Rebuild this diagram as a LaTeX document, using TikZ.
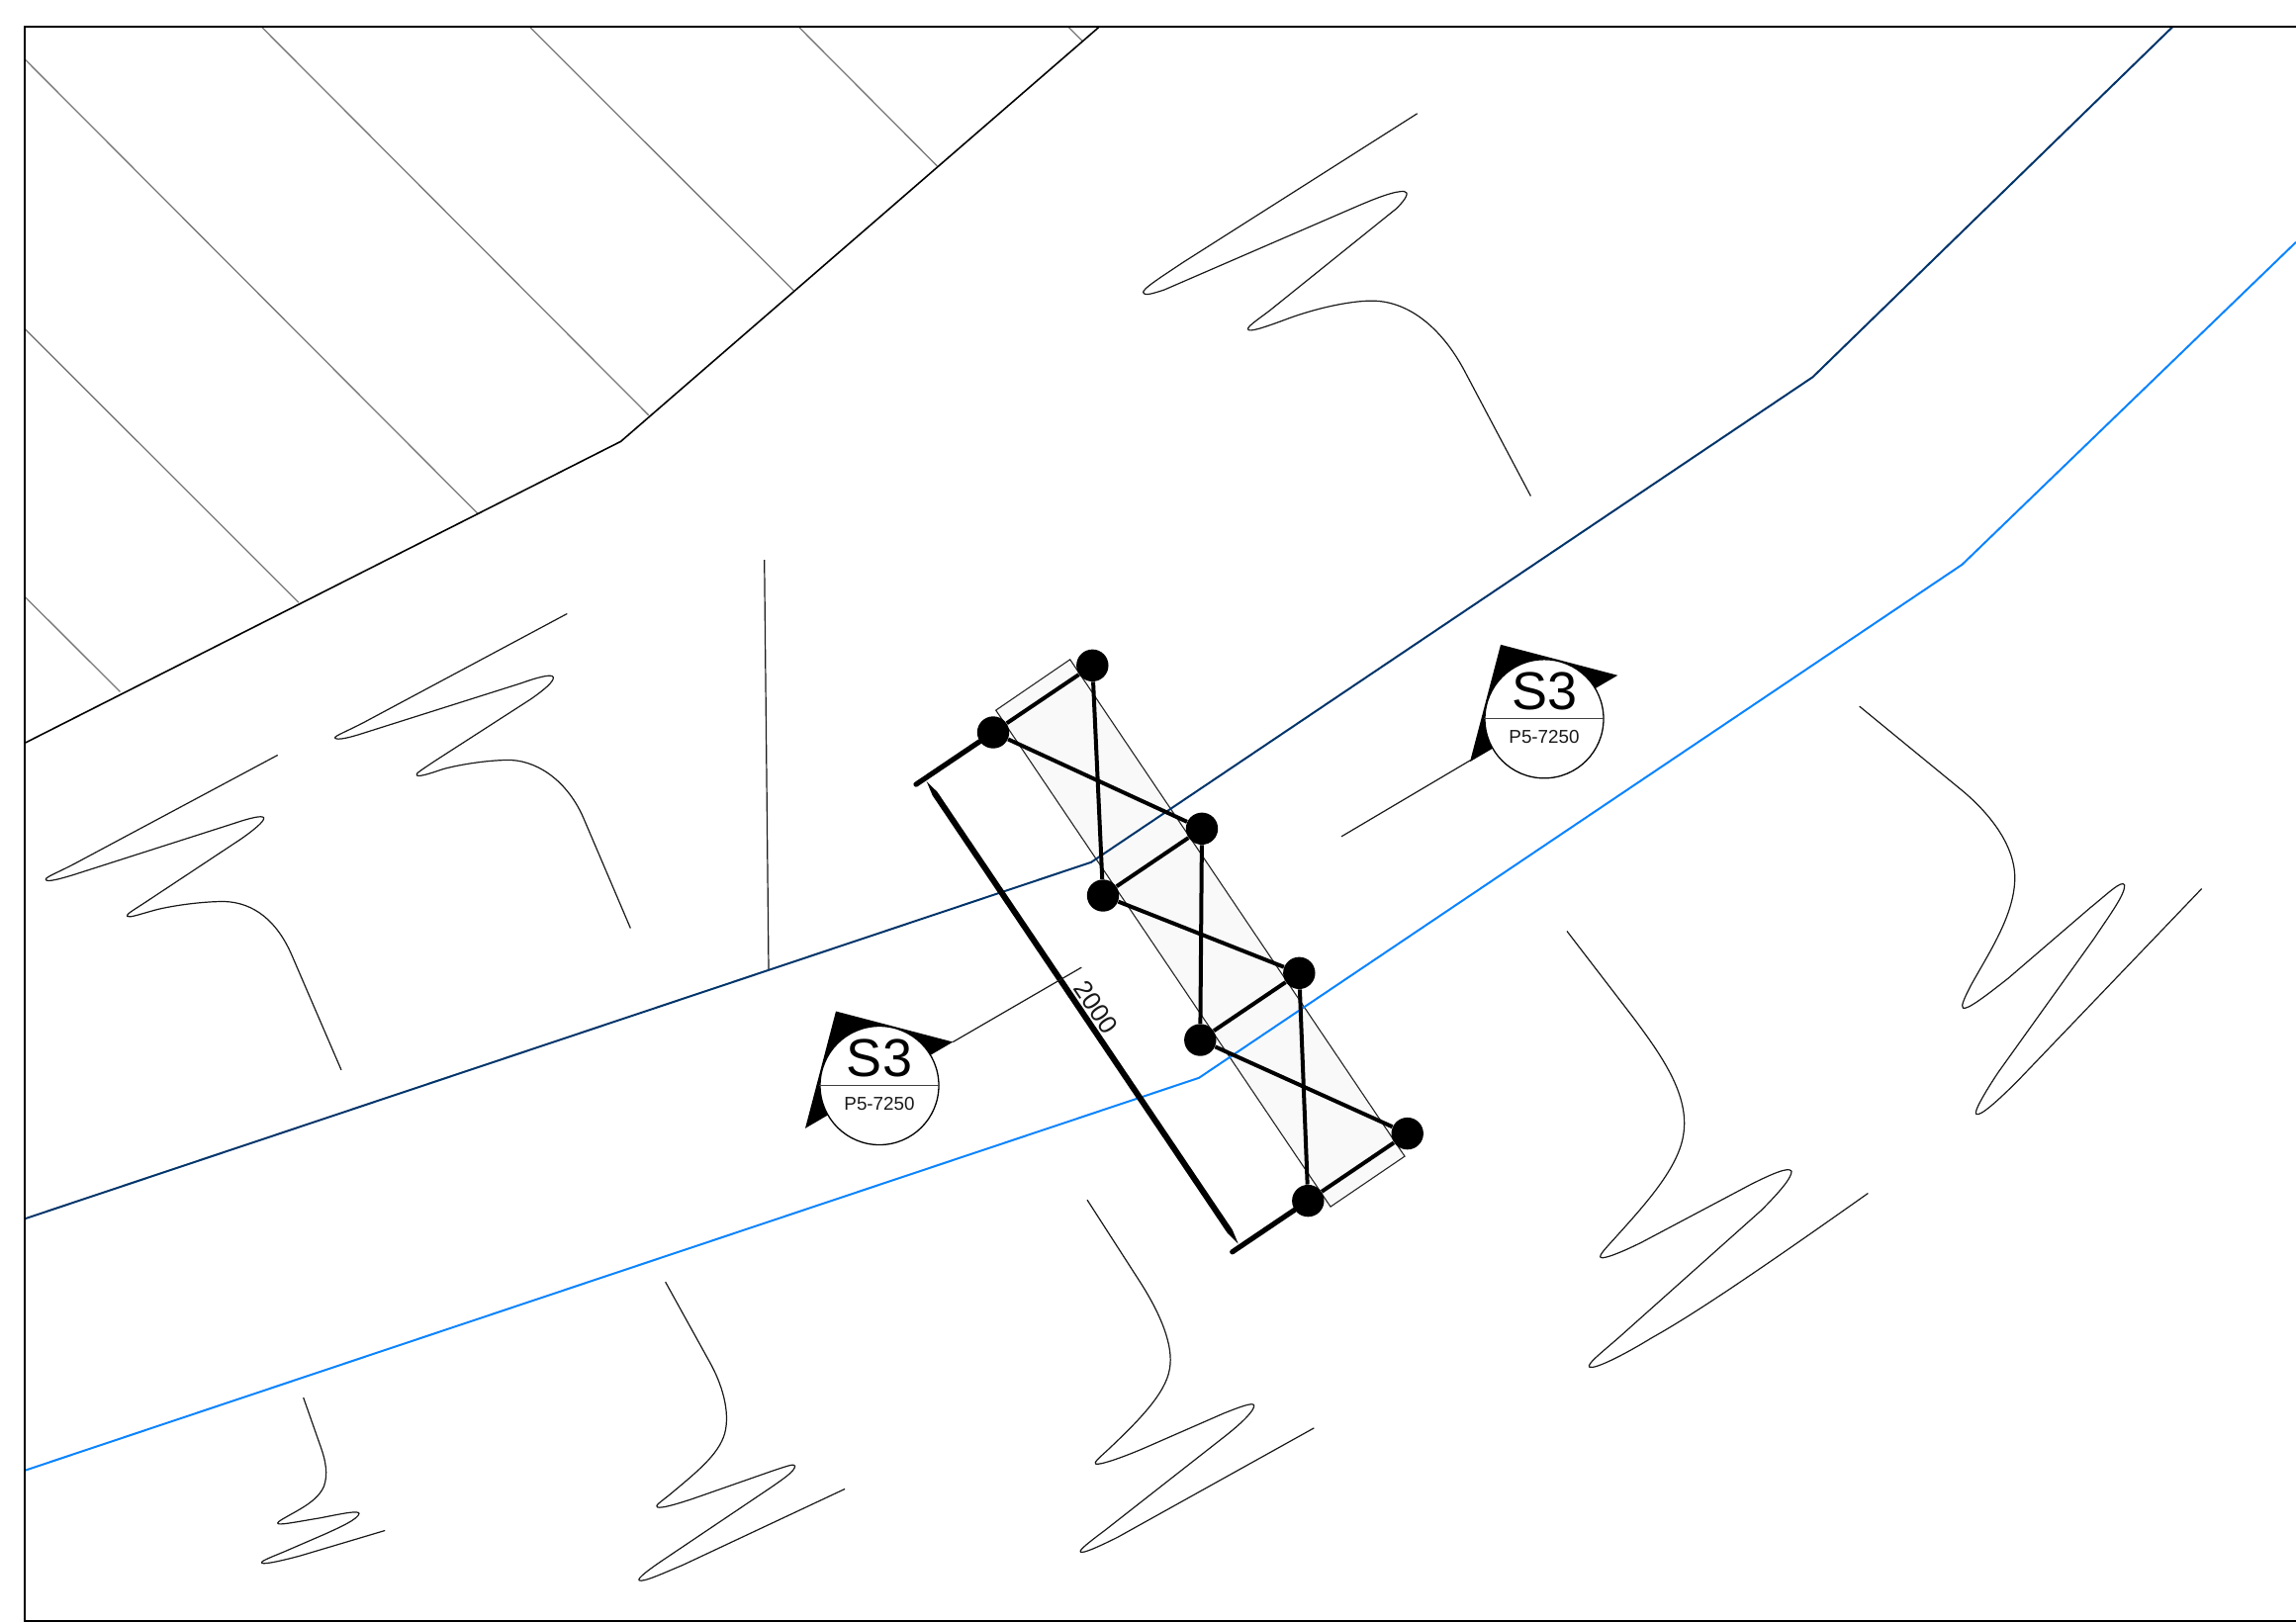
\documentclass[tikz,border=0pt]{standalone}
\usepackage{fontspec}
\setmainfont{Liberation Sans}
\definecolor{hatchgrey}{HTML}{787878}
\definecolor{roaddark}{HTML}{00356B}
\definecolor{roadbright}{HTML}{0A84FF}
\definecolor{padfill}{HTML}{F9F9F9}
\tikzset{
  px/.style={x=0.5pt,y=-0.5pt},
  framed/.style={draw=black,line width=0.75pt,line join=miter},
  hatchline/.style={draw=hatchgrey,line width=0.65pt},
  boundary/.style={draw=black,line width=0.8pt,line join=round},
  darkroad/.style={draw=roaddark,line width=1pt,line join=round},
  brightroad/.style={draw=roadbright,line width=1pt,line join=round},
  breakline/.style={draw=black!90,line width=0.6pt,line join=round},
  leaderline/.style={draw=black!90,line width=0.6pt},
  pad/.style={draw=black!85,fill=padfill,line width=0.55pt},
  post/.style={circle,fill=black,draw=none,inner sep=0pt,minimum size=16.2pt},
  truss/.style={draw=black,line width=2pt},
  tick/.style={draw=black,line width=2.6pt,line cap=round},
  tagcircle/.style={circle,draw=black,fill=white,line width=0.65pt,inner sep=0pt,minimum size=60pt},
  tagrule/.style={draw=black!75,line width=0.65pt},
  tagbig/.style={font=\fontsize{27pt}{30pt}\selectfont,inner sep=0pt},
  tagsmall/.style={font=\fontsize{9.4pt}{11pt}\selectfont,text=black!90,inner sep=0pt},
  dimtext/.style={font=\fontsize{13pt}{15pt}\selectfont,text=black!90,inner sep=0pt,rotate=-56}
}
\newcommand{\brk}[3]{\begin{scope}[shift={(#1,#2)},x=0.16667pt,y=-0.16667pt]\draw[breakline] #3;\end{scope}}
\newcommand{\sectag}[3]{%
  \fill[black] (#1-44,#2-75) -- (#1+74.3,#2-44) -- (#1-75,#2+43.3) -- cycle;
  \node[tagcircle] (#3c) at (#1,#2) {};
  \draw[tagrule] (#3c.west) -- (#3c.east);
  \node[tagbig] (#3t) at (#1,#2-28) {S3};
  \node[tagsmall] (#3s) at (#1,#2+18.5) {P5-7250};
}
\begin{document}
\begin{tikzpicture}[px]
\useasboundingbox (0,0) rectangle (2321,1640);
\fill[white] (0,0) rectangle (2321,1640);

\begin{scope}[yshift=-0.4pt]
% hatch
\draw[hatchline] (25,59) -- (482.5,518);
\draw[hatchline] (265,27) -- (655.7,419);
\draw[hatchline] (536,27) -- (802.3,293);
\draw[hatchline] (808,27) -- (947.3,167);
\draw[hatchline] (1080.5,27) -- (1095,41.4);
\draw[hatchline] (25,331.6) -- (302,608.4);
\draw[hatchline] (25,602.4) -- (121.4,698.6);

% boundary
\draw[boundary] (25,750.5) -- (627.6,445.5) -- (1111.6,26);
\draw[leaderline] (772.7,565.4) -- (777,980);

% pad
\draw[pad] (1081.7,666) -- (1006.7,717.3) -- (1345,1219.3) -- (1420,1168.3) -- cycle;

% roads
\draw[darkroad] (25,1231.5) -- (1103,871) -- (1832.5,380.4) -- (2196.6,26);
\draw[brightroad] (25,1486) -- (1212,1089) -- (1983.5,570) -- (2321,244);

% break lines
\brk{1140}{100}{(878,42) -- (170,492) .. controls (110,532) and (42,575) .. (47,585) .. controls (50,595) and (70,590) .. (110,577) -- (680,330) .. controls (760,295) and (810,277) .. (838,278) .. controls (855,280) and (845,300) .. (815,330) -- (430,640) .. controls (390,670) and (360,690) .. (365,697) .. controls (370,705) and (410,692) .. (470,670) .. controls (560,635) and (670,610) .. (740,610) .. controls (850,610) and (950,690) .. (1020,820) -- (1222,1202)}
\brk{30}{750}{(752,38) -- (150,360) .. controls (90,393) and (45,408) .. (49,416) .. controls (53,424) and (90,414) .. (130,402) -- (620,245) .. controls (670,228) and (705,220) .. (710,228) .. controls (713,238) and (680,265) .. (640,293) -- (350,485) .. controls (315,508) and (290,522) .. (296,527) .. controls (302,532) and (330,522) .. (380,508) .. controls (430,495) and (520,482) .. (590,482) .. controls (680,485) and (750,541) .. (795,645) -- (945,993)}
\brk{330}{610}{(730,29) -- (130,350) .. controls (70,383) and (22,400) .. (26,406) .. controls (32,414) and (70,405) .. (110,392) -- (590,240) .. controls (640,222) and (685,210) .. (688,222) .. controls (690,235) and (660,260) .. (620,288) -- (330,475) .. controls (290,502) and (268,515) .. (274,519) .. controls (280,525) and (310,515) .. (355,500) .. controls (410,485) and (500,472) .. (560,473) .. controls (650,478) and (735,545) .. (780,650) -- (922,983)}
\begin{scope}[shift={(250,1400)},x=0.20408pt,y=-0.16667pt]
\draw[breakline] (139,37) -- (180,180) .. controls (195,230) and (200,270) .. (190,305) .. controls (175,350) and (130,375) .. (95,400) .. controls (80,410) and (70,418) .. (78,420) .. controls (90,422) and (130,412) .. (180,402) .. controls (230,390) and (275,378) .. (277,388) .. controls (275,405) and (230,430) .. (190,452) -- (90,505) .. controls (50,525) and (30,535) .. (36,539) .. controls (45,543) and (90,530) .. (130,517) -- (341,440);
\end{scope}
\brk{640}{1280}{(98,46) -- (230,285) .. controls (270,355) and (295,440) .. (278,505) .. controls (260,570) and (190,625) .. (110,692) .. controls (85,712) and (65,725) .. (73,729) .. controls (85,735) and (150,715) .. (220,690) -- (420,620) .. controls (460,607) and (490,595) .. (491,604) .. controls (490,620) and (460,640) .. (420,668) -- (90,890) .. controls (50,917) and (12,945) .. (18,951) .. controls (30,958) and (90,930) .. (150,905) -- (642,674)}
\brk{1080}{1200}{(57,37) -- (220,290) .. controls (280,385) and (320,480) .. (307,550) .. controls (295,625) and (210,710) .. (120,795) .. controls (95,818) and (75,835) .. (83,838) .. controls (95,842) and (160,820) .. (230,790) -- (470,685) .. controls (520,665) and (560,650) .. (563,660) .. controls (565,675) and (530,710) .. (480,750) -- (110,1040) .. controls (70,1070) and (30,1100) .. (37,1105) .. controls (45,1110) and (90,1090) .. (150,1060) -- (745,729)}
\brk{1570}{930}{(42,32) -- (240,290) .. controls (330,410) and (415,530) .. (395,650) .. controls (380,750) and (280,860) .. (190,960) .. controls (165,988) and (135,1018) .. (145,1022) .. controls (155,1027) and (210,1005) .. (270,975) -- (600,800) .. controls (660,770) and (715,745) .. (723,760) .. controls (725,780) and (680,830) .. (630,880) -- (210,1255) .. controls (160,1300) and (100,1345) .. (110,1354) .. controls (125,1362) and (210,1320) .. (300,1265) .. controls (420,1198) and (600,1078) .. (955,827)}
\brk{1870}{700}{(29,40) -- (340,295) .. controls (430,370) and (505,470) .. (500,570) .. controls (495,680) and (420,790) .. (365,890) .. controls (350,920) and (335,950) .. (343,955) .. controls (355,962) and (410,920) .. (480,865) -- (730,650) .. controls (780,610) and (825,565) .. (833,582) .. controls (835,610) and (790,670) .. (740,745) -- (450,1150) .. controls (410,1210) and (375,1270) .. (383,1277) .. controls (395,1285) and (450,1235) .. (510,1175) -- (1067,593)}

% dimension
\coordinate (tickA) at (926,792.3);
\coordinate (tickB) at (1245.7,1265);
\fill[black] (936.7,789.3) -- (947.6,800) -- (1245.8,1242.6) -- (1251.7,1256.7) -- (1240.8,1246) -- (942.6,803.4) -- cycle;

% posts
\node[post] (A) at (1104.3,672) {};
\node[post] (B) at (1004,739.7) {};
\node[post] (C) at (1215,837) {};
\node[post] (D) at (1115,904.7) {};
\node[post] (E) at (1313.3,983) {};
\node[post] (F) at (1213.3,1050.7) {};
\node[post] (G) at (1422.7,1145.3) {};
\node[post] (H) at (1322.3,1213.3) {};
\draw[truss] (A) -- (B);
\draw[truss] (C) -- (D);
\draw[truss] (E) -- (F);
\draw[truss] (G) -- (H);
\draw[truss] (A) -- (D);
\draw[truss] (B) -- (C);
\draw[truss] (C) -- (F);
\draw[truss] (D) -- (E);
\draw[truss] (E) -- (H);
\draw[truss] (F) -- (G);
\draw[tick] (B) -- (tickA);
\draw[tick] (H) -- (tickB);

\node[dimtext] (dimlabel) at (1108,1017.5) {2000};

% section tags
\coordinate (leadL) at (1093.3,977.3);
\coordinate (leadLa) at (963.3,1052.7);
\coordinate (leadR) at (1356,845);
\coordinate (leadRa) at (1486.7,767.7);
\draw[leaderline] (leadL) -- (leadLa);
\draw[leaderline] (leadR) -- (leadRa);
\sectag{889}{1096.7}{tl}
\sectag{1561}{726}{tr}
\end{scope}

% frame
\draw[framed] (2321,27) -- (25,27) -- (25,1639) -- (2321,1639);
\end{tikzpicture}
\end{document}
